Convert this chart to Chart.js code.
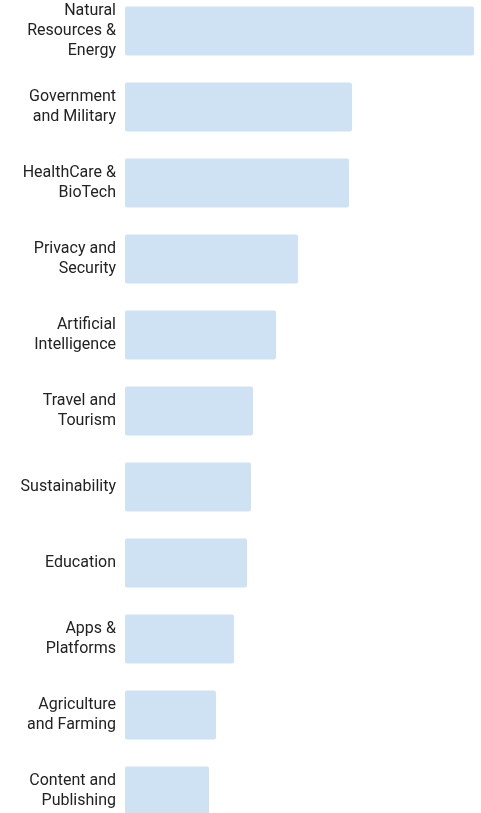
<!DOCTYPE html>
<html>
<head>
<meta charset="utf-8">
<script src="https://cdn.jsdelivr.net/npm/chart.js@4"></script>
<style>
  html, body { margin: 0; padding: 0; background: #fff; overflow: hidden; }
  #wrap { position: absolute; left: 0; top: -7px; width: 481px; height: 836px; }
</style>
</head>
<body>
<div id="wrap"><canvas id="myChart"></canvas></div>
<script>
const categories = [
    ['Natural', 'Resources &', 'Energy'],
    ['Government', 'and Military'],
    ['HealthCare &', 'BioTech'],
    ['Privacy and', 'Security'],
    ['Artificial', 'Intelligence'],
    ['Travel and', 'Tourism'],
    'Sustainability',
    'Education',
    ['Apps &', 'Platforms'],
    ['Agriculture', 'and Farming'],
    ['Content and', 'Publishing']
];
const counts = [349, 227, 224, 173, 151, 128, 126, 122, 109, 91, 84];
const axisMax = 356;

const ctx = document.getElementById('myChart');
new Chart(ctx, {
    type: 'bar',
    data: {
        labels: categories,
        datasets: [{
            data: counts,
            backgroundColor: '#cfe2f3',
            borderRadius: 2,
            borderSkipped: false,
            barPercentage: 49 / 76,
            categoryPercentage: 1
        }]
    },
    options: {
        indexAxis: 'y',
        maintainAspectRatio: false,
        animation: false,
        layout: { padding: 0 },
        plugins: {
            legend: { display: false },
            tooltip: { enabled: false }
        },
        scales: {
            x: {
                display: false,
                min: 0,
                max: axisMax
            },
            y: {
                grid: { display: false, drawTicks: false },
                border: { display: false },
                afterFit: scale => {
                    // fixed label column, and let multi-line labels run off the edges
                    scale.width = 125;
                    scale.paddingTop = 0;
                    scale.paddingBottom = 0;
                },
                ticks: {
                    color: '#222',
                    padding: 9,
                    font: { family: 'Roboto', size: 16, lineHeight: 1.22 }
                }
            }
        }
    }
});
</script>
</body>
</html>
